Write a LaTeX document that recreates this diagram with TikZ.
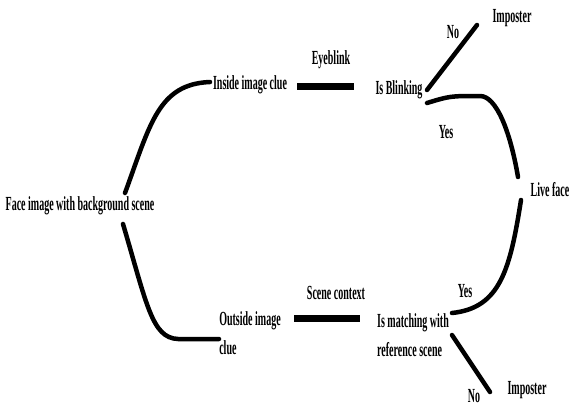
\documentclass[tikz,border=0pt]{standalone}
\usepackage{fontspec}
\setmainfont{Liberation Serif}[FakeStretch=0.5]
\begin{document}
\begin{tikzpicture}[x=1pt,y=-1pt,
  lbl/.style={inner sep=0pt,font=\fontsize{20}{29}\selectfont\bfseries},
  curve/.style={line width=4.5pt,line cap=round},
  bar/.style={line width=7pt}]
\useasboundingbox[fill=white] (0,0) rectangle (570,410);
% nodes
\node[lbl] (face) at (80,206) {Face image with background scene};
\node[lbl] (inside) at (250,85) {Inside image clue};
\node[lbl] (eye) at (331,60) {Eyeblink};
\node[lbl] (blink) at (399,90) {Is Blinking};
\node[lbl] (imp1) at (512,18) {Imposter};
\node[lbl] (no1) at (453,32) {No};
\node[lbl] (yes1) at (446,132) {Yes};
\node[lbl] (live) at (550,190) {Live face};
\node[lbl] (scene) at (336,293) {Scene context};
\node[lbl,align=left] (outside) at (250,333) {Outside image\\clue};
\node[lbl,align=left] (match) at (413,335.5) {Is matching with\\reference scene};
\node[lbl] (yes2) at (465,291) {Yes};
\node[lbl] (no2) at (474,396) {No};
\node[lbl] (imp2) at (527,390) {Imposter};
% connectors
\draw[curve] ([shift={(45,-13)}]face.center) .. controls (150,125) and (158,84) .. ([shift={(-40,-3)}]inside.center);
\draw[curve] ([shift={(43,18)}]face.center) .. controls (147,305) and (152,338) .. (178,339) -- ([shift={(-31,6)}]outside.center);
\draw[bar] ([shift={(47,1)}]inside.center) -- ([shift={(-45,-4)}]blink.center);
\draw[bar] ([shift={(44,-15)}]outside.center) -- ([shift={(-53,-17.5)}]match.center);
\draw[curve] ([shift={(28,0)}]blink.center) -- ([shift={(-35,7)}]imp1.center);
\draw[curve] ([shift={(28,13)}]blink.center) .. controls (450,96) .. (480,96) .. controls (496,96) and (510,130) .. ([shift={(-32,-13)}]live.center);
\draw[curve] ([shift={(-29,10)}]live.center) .. controls (510,270) and (500,308) .. ([shift={(39,-22.5)}]match.center);
\draw[curve] ([shift={(39,-0.5)}]match.center) -- ([shift={(-37,2)}]imp2.center);
\end{tikzpicture}
\end{document}
